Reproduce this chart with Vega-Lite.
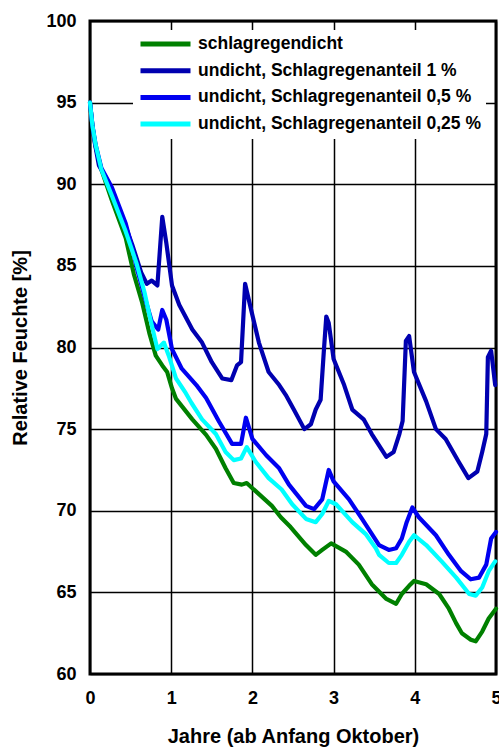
{
  "$schema": "https://vega.github.io/schema/vega-lite/v6.json",
  "width": 406,
  "height": 653,
  "autosize": "none",
  "padding": {"left": 90, "top": 21, "right": 3, "bottom": 75},
  "background": "white",
  "config": {
    "view": {"stroke": "black", "strokeWidth": 3},
    "font": "Liberation Sans",
    "axis": {
      "labelFont": "Liberation Sans", "labelFontWeight": "bold", "labelFontSize": 18, "labelColor": "black",
      "titleFont": "Liberation Sans", "titleFontWeight": "bold", "titleFontSize": 20, "titleColor": "black",
      "grid": true, "gridColor": "black", "gridWidth": 1.5, "gridOpacity": 1, "ticks": false, "domain": false
    }
  },
  "datasets": {
    "rows": [
      {"s": "schlagregendicht", "x": 0, "y": 95},
      {"s": "schlagregendicht", "x": 0.03, "y": 93.5},
      {"s": "schlagregendicht", "x": 0.07, "y": 92.3},
      {"s": "schlagregendicht", "x": 0.14, "y": 90.9},
      {"s": "schlagregendicht", "x": 0.27, "y": 89.0},
      {"s": "schlagregendicht", "x": 0.44, "y": 86.7},
      {"s": "schlagregendicht", "x": 0.54, "y": 84.5},
      {"s": "schlagregendicht", "x": 0.64, "y": 82.8},
      {"s": "schlagregendicht", "x": 0.73, "y": 80.9},
      {"s": "schlagregendicht", "x": 0.81, "y": 79.5},
      {"s": "schlagregendicht", "x": 0.89, "y": 78.9},
      {"s": "schlagregendicht", "x": 0.95, "y": 78.5},
      {"s": "schlagregendicht", "x": 1.01, "y": 77.5},
      {"s": "schlagregendicht", "x": 1.06, "y": 76.85},
      {"s": "schlagregendicht", "x": 1.26, "y": 75.6},
      {"s": "schlagregendicht", "x": 1.43, "y": 74.65},
      {"s": "schlagregendicht", "x": 1.55, "y": 73.8},
      {"s": "schlagregendicht", "x": 1.67, "y": 72.6},
      {"s": "schlagregendicht", "x": 1.77, "y": 71.7},
      {"s": "schlagregendicht", "x": 1.87, "y": 71.6},
      {"s": "schlagregendicht", "x": 1.93, "y": 71.7},
      {"s": "schlagregendicht", "x": 2.04, "y": 71.2},
      {"s": "schlagregendicht", "x": 2.24, "y": 70.3},
      {"s": "schlagregendicht", "x": 2.35, "y": 69.6},
      {"s": "schlagregendicht", "x": 2.47, "y": 69.0},
      {"s": "schlagregendicht", "x": 2.66, "y": 67.9},
      {"s": "schlagregendicht", "x": 2.78, "y": 67.3},
      {"s": "schlagregendicht", "x": 2.86, "y": 67.6},
      {"s": "schlagregendicht", "x": 2.97, "y": 68.0},
      {"s": "schlagregendicht", "x": 3.15, "y": 67.5},
      {"s": "schlagregendicht", "x": 3.31, "y": 66.7},
      {"s": "schlagregendicht", "x": 3.47, "y": 65.5},
      {"s": "schlagregendicht", "x": 3.65, "y": 64.6},
      {"s": "schlagregendicht", "x": 3.77, "y": 64.3},
      {"s": "schlagregendicht", "x": 3.84, "y": 64.9},
      {"s": "schlagregendicht", "x": 3.93, "y": 65.4},
      {"s": "schlagregendicht", "x": 3.99, "y": 65.7},
      {"s": "schlagregendicht", "x": 4.14, "y": 65.5},
      {"s": "schlagregendicht", "x": 4.30, "y": 64.9},
      {"s": "schlagregendicht", "x": 4.42, "y": 64.0},
      {"s": "schlagregendicht", "x": 4.51, "y": 63.1},
      {"s": "schlagregendicht", "x": 4.58, "y": 62.5},
      {"s": "schlagregendicht", "x": 4.69, "y": 62.1},
      {"s": "schlagregendicht", "x": 4.75, "y": 62.0},
      {"s": "schlagregendicht", "x": 4.83, "y": 62.6},
      {"s": "schlagregendicht", "x": 4.91, "y": 63.4},
      {"s": "schlagregendicht", "x": 5.0, "y": 64.0},

      {"s": "undicht, Schlagregenanteil 1 %", "x": 0, "y": 95},
      {"s": "undicht, Schlagregenanteil 1 %", "x": 0.03, "y": 93.6},
      {"s": "undicht, Schlagregenanteil 1 %", "x": 0.06, "y": 92.5},
      {"s": "undicht, Schlagregenanteil 1 %", "x": 0.11, "y": 91.15},
      {"s": "undicht, Schlagregenanteil 1 %", "x": 0.23, "y": 90.1},
      {"s": "undicht, Schlagregenanteil 1 %", "x": 0.39, "y": 88.1},
      {"s": "undicht, Schlagregenanteil 1 %", "x": 0.52, "y": 86.3},
      {"s": "undicht, Schlagregenanteil 1 %", "x": 0.63, "y": 84.6},
      {"s": "undicht, Schlagregenanteil 1 %", "x": 0.70, "y": 83.9},
      {"s": "undicht, Schlagregenanteil 1 %", "x": 0.76, "y": 84.1},
      {"s": "undicht, Schlagregenanteil 1 %", "x": 0.83, "y": 83.8},
      {"s": "undicht, Schlagregenanteil 1 %", "x": 0.89, "y": 88.0},
      {"s": "undicht, Schlagregenanteil 1 %", "x": 0.94, "y": 86.4},
      {"s": "undicht, Schlagregenanteil 1 %", "x": 1.01, "y": 83.8},
      {"s": "undicht, Schlagregenanteil 1 %", "x": 1.10, "y": 82.6},
      {"s": "undicht, Schlagregenanteil 1 %", "x": 1.26, "y": 81.1},
      {"s": "undicht, Schlagregenanteil 1 %", "x": 1.38, "y": 80.3},
      {"s": "undicht, Schlagregenanteil 1 %", "x": 1.50, "y": 79.1},
      {"s": "undicht, Schlagregenanteil 1 %", "x": 1.63, "y": 78.1},
      {"s": "undicht, Schlagregenanteil 1 %", "x": 1.74, "y": 78.0},
      {"s": "undicht, Schlagregenanteil 1 %", "x": 1.81, "y": 78.9},
      {"s": "undicht, Schlagregenanteil 1 %", "x": 1.86, "y": 79.1},
      {"s": "undicht, Schlagregenanteil 1 %", "x": 1.91, "y": 83.9},
      {"s": "undicht, Schlagregenanteil 1 %", "x": 1.98, "y": 82.4},
      {"s": "undicht, Schlagregenanteil 1 %", "x": 2.08, "y": 80.3},
      {"s": "undicht, Schlagregenanteil 1 %", "x": 2.20, "y": 78.5},
      {"s": "undicht, Schlagregenanteil 1 %", "x": 2.33, "y": 77.7},
      {"s": "undicht, Schlagregenanteil 1 %", "x": 2.41, "y": 77.1},
      {"s": "undicht, Schlagregenanteil 1 %", "x": 2.51, "y": 76.2},
      {"s": "undicht, Schlagregenanteil 1 %", "x": 2.64, "y": 75.0},
      {"s": "undicht, Schlagregenanteil 1 %", "x": 2.72, "y": 75.3},
      {"s": "undicht, Schlagregenanteil 1 %", "x": 2.78, "y": 76.2},
      {"s": "undicht, Schlagregenanteil 1 %", "x": 2.84, "y": 76.8},
      {"s": "undicht, Schlagregenanteil 1 %", "x": 2.88, "y": 79.8},
      {"s": "undicht, Schlagregenanteil 1 %", "x": 2.91, "y": 81.9},
      {"s": "undicht, Schlagregenanteil 1 %", "x": 2.94, "y": 81.5},
      {"s": "undicht, Schlagregenanteil 1 %", "x": 3.00, "y": 79.3},
      {"s": "undicht, Schlagregenanteil 1 %", "x": 3.13, "y": 77.7},
      {"s": "undicht, Schlagregenanteil 1 %", "x": 3.23, "y": 76.2},
      {"s": "undicht, Schlagregenanteil 1 %", "x": 3.37, "y": 75.6},
      {"s": "undicht, Schlagregenanteil 1 %", "x": 3.47, "y": 74.7},
      {"s": "undicht, Schlagregenanteil 1 %", "x": 3.65, "y": 73.3},
      {"s": "undicht, Schlagregenanteil 1 %", "x": 3.74, "y": 73.6},
      {"s": "undicht, Schlagregenanteil 1 %", "x": 3.81, "y": 74.7},
      {"s": "undicht, Schlagregenanteil 1 %", "x": 3.85, "y": 75.5},
      {"s": "undicht, Schlagregenanteil 1 %", "x": 3.89, "y": 80.4},
      {"s": "undicht, Schlagregenanteil 1 %", "x": 3.93, "y": 80.7},
      {"s": "undicht, Schlagregenanteil 1 %", "x": 3.99, "y": 78.5},
      {"s": "undicht, Schlagregenanteil 1 %", "x": 4.14, "y": 76.7},
      {"s": "undicht, Schlagregenanteil 1 %", "x": 4.26, "y": 75.0},
      {"s": "undicht, Schlagregenanteil 1 %", "x": 4.38, "y": 74.4},
      {"s": "undicht, Schlagregenanteil 1 %", "x": 4.54, "y": 73.0},
      {"s": "undicht, Schlagregenanteil 1 %", "x": 4.66, "y": 72.0},
      {"s": "undicht, Schlagregenanteil 1 %", "x": 4.77, "y": 72.4},
      {"s": "undicht, Schlagregenanteil 1 %", "x": 4.83, "y": 73.6},
      {"s": "undicht, Schlagregenanteil 1 %", "x": 4.88, "y": 74.7},
      {"s": "undicht, Schlagregenanteil 1 %", "x": 4.90, "y": 79.4},
      {"s": "undicht, Schlagregenanteil 1 %", "x": 4.94, "y": 79.8},
      {"s": "undicht, Schlagregenanteil 1 %", "x": 4.99, "y": 77.7},

      {"s": "undicht, Schlagregenanteil 0,5 %", "x": 0, "y": 95},
      {"s": "undicht, Schlagregenanteil 0,5 %", "x": 0.03, "y": 93.6},
      {"s": "undicht, Schlagregenanteil 0,5 %", "x": 0.07, "y": 92.4},
      {"s": "undicht, Schlagregenanteil 0,5 %", "x": 0.14, "y": 91.0},
      {"s": "undicht, Schlagregenanteil 0,5 %", "x": 0.27, "y": 89.8},
      {"s": "undicht, Schlagregenanteil 0,5 %", "x": 0.44, "y": 87.6},
      {"s": "undicht, Schlagregenanteil 0,5 %", "x": 0.52, "y": 86.1},
      {"s": "undicht, Schlagregenanteil 0,5 %", "x": 0.58, "y": 84.8},
      {"s": "undicht, Schlagregenanteil 0,5 %", "x": 0.69, "y": 82.8},
      {"s": "undicht, Schlagregenanteil 0,5 %", "x": 0.76, "y": 81.6},
      {"s": "undicht, Schlagregenanteil 0,5 %", "x": 0.84, "y": 81.1},
      {"s": "undicht, Schlagregenanteil 0,5 %", "x": 0.89, "y": 82.3},
      {"s": "undicht, Schlagregenanteil 0,5 %", "x": 0.94, "y": 81.7},
      {"s": "undicht, Schlagregenanteil 0,5 %", "x": 1.01, "y": 79.9},
      {"s": "undicht, Schlagregenanteil 0,5 %", "x": 1.13, "y": 78.7},
      {"s": "undicht, Schlagregenanteil 0,5 %", "x": 1.31, "y": 77.7},
      {"s": "undicht, Schlagregenanteil 0,5 %", "x": 1.43, "y": 76.9},
      {"s": "undicht, Schlagregenanteil 0,5 %", "x": 1.59, "y": 75.45},
      {"s": "undicht, Schlagregenanteil 0,5 %", "x": 1.75, "y": 74.1},
      {"s": "undicht, Schlagregenanteil 0,5 %", "x": 1.86, "y": 74.1},
      {"s": "undicht, Schlagregenanteil 0,5 %", "x": 1.92, "y": 75.7},
      {"s": "undicht, Schlagregenanteil 0,5 %", "x": 2.00, "y": 74.4},
      {"s": "undicht, Schlagregenanteil 0,5 %", "x": 2.17, "y": 73.4},
      {"s": "undicht, Schlagregenanteil 0,5 %", "x": 2.33, "y": 72.6},
      {"s": "undicht, Schlagregenanteil 0,5 %", "x": 2.45, "y": 71.6},
      {"s": "undicht, Schlagregenanteil 0,5 %", "x": 2.66, "y": 70.3},
      {"s": "undicht, Schlagregenanteil 0,5 %", "x": 2.76, "y": 70.1},
      {"s": "undicht, Schlagregenanteil 0,5 %", "x": 2.86, "y": 70.7},
      {"s": "undicht, Schlagregenanteil 0,5 %", "x": 2.94, "y": 72.5},
      {"s": "undicht, Schlagregenanteil 0,5 %", "x": 3.00, "y": 71.8},
      {"s": "undicht, Schlagregenanteil 0,5 %", "x": 3.19, "y": 70.7},
      {"s": "undicht, Schlagregenanteil 0,5 %", "x": 3.35, "y": 69.5},
      {"s": "undicht, Schlagregenanteil 0,5 %", "x": 3.56, "y": 67.9},
      {"s": "undicht, Schlagregenanteil 0,5 %", "x": 3.68, "y": 67.6},
      {"s": "undicht, Schlagregenanteil 0,5 %", "x": 3.77, "y": 67.7},
      {"s": "undicht, Schlagregenanteil 0,5 %", "x": 3.84, "y": 68.3},
      {"s": "undicht, Schlagregenanteil 0,5 %", "x": 3.90, "y": 69.3},
      {"s": "undicht, Schlagregenanteil 0,5 %", "x": 3.97, "y": 70.2},
      {"s": "undicht, Schlagregenanteil 0,5 %", "x": 4.05, "y": 69.6},
      {"s": "undicht, Schlagregenanteil 0,5 %", "x": 4.26, "y": 68.5},
      {"s": "undicht, Schlagregenanteil 0,5 %", "x": 4.42, "y": 67.3},
      {"s": "undicht, Schlagregenanteil 0,5 %", "x": 4.57, "y": 66.3},
      {"s": "undicht, Schlagregenanteil 0,5 %", "x": 4.69, "y": 65.8},
      {"s": "undicht, Schlagregenanteil 0,5 %", "x": 4.79, "y": 65.9},
      {"s": "undicht, Schlagregenanteil 0,5 %", "x": 4.88, "y": 66.7},
      {"s": "undicht, Schlagregenanteil 0,5 %", "x": 4.94, "y": 68.3},
      {"s": "undicht, Schlagregenanteil 0,5 %", "x": 5.0, "y": 68.7},

      {"s": "undicht, Schlagregenanteil 0,25 %", "x": 0, "y": 95},
      {"s": "undicht, Schlagregenanteil 0,25 %", "x": 0.03, "y": 93.6},
      {"s": "undicht, Schlagregenanteil 0,25 %", "x": 0.07, "y": 92.4},
      {"s": "undicht, Schlagregenanteil 0,25 %", "x": 0.14, "y": 90.9},
      {"s": "undicht, Schlagregenanteil 0,25 %", "x": 0.27, "y": 89.3},
      {"s": "undicht, Schlagregenanteil 0,25 %", "x": 0.44, "y": 87.1},
      {"s": "undicht, Schlagregenanteil 0,25 %", "x": 0.57, "y": 85.2},
      {"s": "undicht, Schlagregenanteil 0,25 %", "x": 0.67, "y": 83.4},
      {"s": "undicht, Schlagregenanteil 0,25 %", "x": 0.75, "y": 81.6},
      {"s": "undicht, Schlagregenanteil 0,25 %", "x": 0.83, "y": 79.9},
      {"s": "undicht, Schlagregenanteil 0,25 %", "x": 0.91, "y": 80.3},
      {"s": "undicht, Schlagregenanteil 0,25 %", "x": 0.97, "y": 79.5},
      {"s": "undicht, Schlagregenanteil 0,25 %", "x": 1.06, "y": 78.1},
      {"s": "undicht, Schlagregenanteil 0,25 %", "x": 1.18, "y": 77.2},
      {"s": "undicht, Schlagregenanteil 0,25 %", "x": 1.25, "y": 76.6},
      {"s": "undicht, Schlagregenanteil 0,25 %", "x": 1.38, "y": 75.6},
      {"s": "undicht, Schlagregenanteil 0,25 %", "x": 1.55, "y": 74.7},
      {"s": "undicht, Schlagregenanteil 0,25 %", "x": 1.67, "y": 73.6},
      {"s": "undicht, Schlagregenanteil 0,25 %", "x": 1.77, "y": 73.1},
      {"s": "undicht, Schlagregenanteil 0,25 %", "x": 1.86, "y": 73.2},
      {"s": "undicht, Schlagregenanteil 0,25 %", "x": 1.93, "y": 73.9},
      {"s": "undicht, Schlagregenanteil 0,25 %", "x": 2.04, "y": 73.0},
      {"s": "undicht, Schlagregenanteil 0,25 %", "x": 2.20, "y": 72.0},
      {"s": "undicht, Schlagregenanteil 0,25 %", "x": 2.36, "y": 71.3},
      {"s": "undicht, Schlagregenanteil 0,25 %", "x": 2.49, "y": 70.4},
      {"s": "undicht, Schlagregenanteil 0,25 %", "x": 2.66, "y": 69.5},
      {"s": "undicht, Schlagregenanteil 0,25 %", "x": 2.78, "y": 69.3},
      {"s": "undicht, Schlagregenanteil 0,25 %", "x": 2.86, "y": 69.8},
      {"s": "undicht, Schlagregenanteil 0,25 %", "x": 2.94, "y": 70.6},
      {"s": "undicht, Schlagregenanteil 0,25 %", "x": 3.03, "y": 70.4},
      {"s": "undicht, Schlagregenanteil 0,25 %", "x": 3.23, "y": 69.3},
      {"s": "undicht, Schlagregenanteil 0,25 %", "x": 3.40, "y": 68.55},
      {"s": "undicht, Schlagregenanteil 0,25 %", "x": 3.52, "y": 67.7},
      {"s": "undicht, Schlagregenanteil 0,25 %", "x": 3.56, "y": 67.3},
      {"s": "undicht, Schlagregenanteil 0,25 %", "x": 3.68, "y": 66.8},
      {"s": "undicht, Schlagregenanteil 0,25 %", "x": 3.77, "y": 66.8},
      {"s": "undicht, Schlagregenanteil 0,25 %", "x": 3.84, "y": 67.3},
      {"s": "undicht, Schlagregenanteil 0,25 %", "x": 3.93, "y": 68.1},
      {"s": "undicht, Schlagregenanteil 0,25 %", "x": 3.99, "y": 68.5},
      {"s": "undicht, Schlagregenanteil 0,25 %", "x": 4.14, "y": 67.9},
      {"s": "undicht, Schlagregenanteil 0,25 %", "x": 4.33, "y": 66.9},
      {"s": "undicht, Schlagregenanteil 0,25 %", "x": 4.51, "y": 65.9},
      {"s": "undicht, Schlagregenanteil 0,25 %", "x": 4.67, "y": 64.9},
      {"s": "undicht, Schlagregenanteil 0,25 %", "x": 4.75, "y": 64.8},
      {"s": "undicht, Schlagregenanteil 0,25 %", "x": 4.83, "y": 65.3},
      {"s": "undicht, Schlagregenanteil 0,25 %", "x": 4.91, "y": 66.3},
      {"s": "undicht, Schlagregenanteil 0,25 %", "x": 4.99, "y": 66.9}
    ]
  },
  "data": {"name": "rows"},
  "mark": {"type": "line", "strokeWidth": 4.2, "strokeCap": "round", "strokeJoin": "round"},
  "encoding": {
    "x": {
      "field": "x", "type": "quantitative",
      "scale": {"domain": [0, 5], "nice": false},
      "axis": {"values": [0, 1, 2, 3, 4, 5], "title": "Jahre (ab Anfang Oktober)", "labelPadding": 15, "titlePadding": 19, "labelFlush": false}
    },
    "y": {
      "field": "y", "type": "quantitative",
      "scale": {"domain": [60, 100], "nice": false, "zero": false},
      "axis": {"values": [60, 65, 70, 75, 80, 85, 90, 95, 100], "title": "Relative Feuchte [%]", "labelPadding": 14, "titlePadding": 15, "labelFlush": false}
    },
    "color": {
      "field": "s", "type": "nominal",
      "scale": {
        "domain": ["schlagregendicht", "undicht, Schlagregenanteil 1 %", "undicht, Schlagregenanteil 0,5 %", "undicht, Schlagregenanteil 0,25 %"],
        "range": ["#008000", "#0000B0", "#0000F0", "#00FFFF"]
      },
      "legend": {
        "orient": "none", "legendX": 43, "legendY": 9, "title": null,
        "fillColor": "white", "padding": 5,
        "symbolType": "stroke", "symbolSize": 2500, "symbolStrokeWidth": 5,
        "labelFont": "Liberation Sans", "labelFontWeight": "bold", "labelFontSize": 17.5, "labelColor": "black",
        "labelOffset": 5, "labelLimit": 0, "clipHeight": 18, "rowPadding": 8.7
      }
    }
  }
}
